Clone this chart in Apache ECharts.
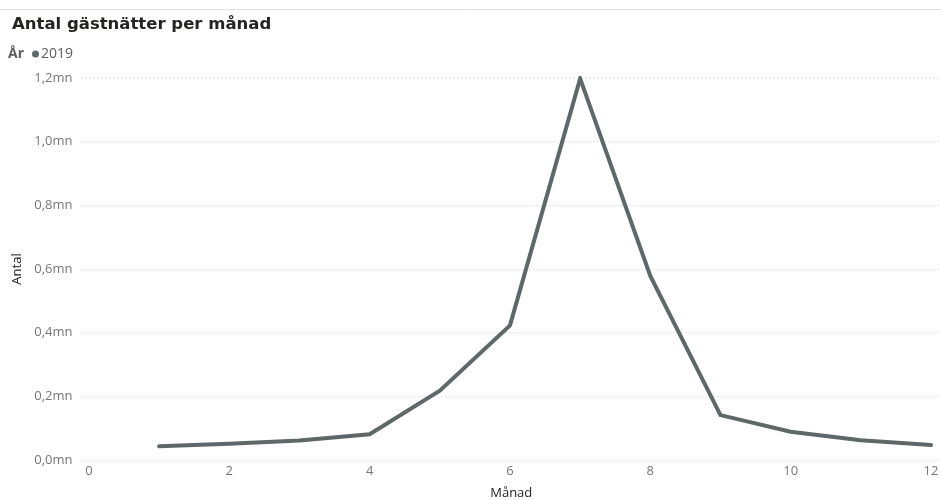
<!DOCTYPE html>
<html>
<head>
<meta charset="utf-8">
<style>
  html, body { margin: 0; padding: 0; background: #fff; }
  #chart { width: 941px; height: 500px; }
</style>
<script src="https://cdn.jsdelivr.net/npm/echarts@6/dist/echarts.min.js"></script>
</head>
<body>
<div id="chart"></div>
<script>
// Gästnätter per månad, 2019
const months = [1, 2, 3, 4, 5, 6, 7, 8, 9, 10, 11, 12];
const nights2019 = [0.043, 0.051, 0.061, 0.081, 0.218, 0.423, 1.198, 0.578, 0.141, 0.089, 0.062, 0.047];
const xTicks = [0, 2, 4, 6, 8, 10, 12];
const yTicks = [0, 0.2, 0.4, 0.6, 0.8, 1.0, 1.2];

const lineColor = '#5E6869';
const labelFont = '"Open Sans", "Noto Sans", sans-serif';

const chart = echarts.init(document.getElementById('chart'), null, { renderer: 'canvas' });

chart.setOption({
  animation: false,
  backgroundColor: '#ffffff',
  graphic: [
    { type: 'line', shape: { x1: 0, y1: 9.5, x2: 941, y2: 9.5 }, style: { stroke: '#E1E1E1', lineWidth: 1 } },
    { type: 'text', left: 8, top: 47, style: { text: 'År', fontFamily: labelFont, fontWeight: 'bold', fontSize: 14, fill: '#605E5C' } }
  ],
  title: {
    text: 'Antal gästnätter per månad',
    left: 7, top: 11,
    textStyle: { fontFamily: '"DejaVu Sans", sans-serif', fontWeight: 'bold', fontSize: 16.5, color: '#252423' }
  },
  legend: {
    left: 32, top: 47, padding: 0,
    icon: 'circle', itemWidth: 7, itemHeight: 7, itemGap: 4,
    data: [{ name: '2019' }],
    textStyle: { fontFamily: labelFont, fontSize: 14, color: '#605E5C', padding: [0, 0, 0, -3] }
  },
  grid: { left: 81.5, right: 0, top: 78, bottom: 40, containLabel: false, outerBoundsMode: 'none' },
  xAxis: {
    type: 'value',
    min: -0.107, max: 12.143,
    name: 'Månad', nameLocation: 'middle', nameGap: 27,
    nameTextStyle: { fontFamily: labelFont, fontSize: 13, color: '#252423' },
    axisLine: { show: false }, axisTick: { show: false }, splitLine: { show: false },
    axisLabel: {
      customValues: xTicks, fontFamily: labelFont, fontSize: 13, color: '#777777', margin: 5,
      formatter: v => String(v)
    }
  },
  yAxis: {
    type: 'value',
    min: 0, max: 1.2, interval: 0.2,
    name: 'Antal', nameLocation: 'middle', nameGap: 54, nameRotate: 90,
    nameTextStyle: { fontFamily: labelFont, fontSize: 13, color: '#252423' },
    axisLine: { show: false }, axisTick: { show: false },
    splitLine: { show: true, lineStyle: { color: '#C4C4C4', type: [1, 3], width: 1 } },
    axisLabel: {
      customValues: yTicks, fontFamily: labelFont, fontSize: 13, color: '#777777', margin: 9,
      formatter: v => v.toFixed(1).replace('.', ',') + 'mn'
    }
  },
  series: [{
    name: '2019',
    type: 'line',
    data: months.map((m, i) => [m, nights2019[i]]),
    showSymbol: false,
    symbol: 'circle',
    itemStyle: { color: lineColor },
    lineStyle: { color: lineColor, width: 4, cap: 'round', join: 'miter' }
  }]
});
</script>
</body>
</html>
